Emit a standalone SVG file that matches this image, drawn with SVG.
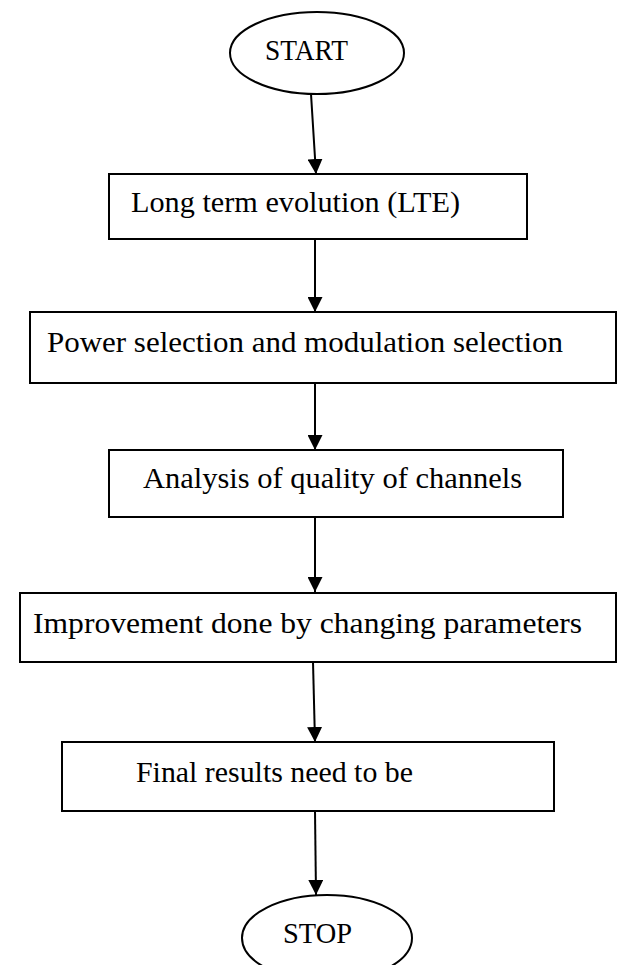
<svg xmlns="http://www.w3.org/2000/svg" width="630" height="965" viewBox="0 0 630 965">
<style>
.shape{fill:#fff;stroke:#000;stroke-width:2}
.lbl{font-family:"Liberation Serif","Times New Roman",serif;font-size:30px;fill:#000}
.conn{stroke:#000;stroke-width:2;fill:none}
</style>
<defs>
<marker id="arr" markerWidth="15" markerHeight="15" refX="15" refY="7.5" orient="auto" markerUnits="userSpaceOnUse">
<path d="M0,0 L15,7.5 L0,15 Z" fill="#000"/>
</marker>
</defs>
<rect width="630" height="965" fill="#fff"/>
<g id="connectors">
<line class="conn" x1="311" y1="94" x2="316" y2="174" marker-end="url(#arr)"/>
<line class="conn" x1="315" y1="239" x2="315" y2="312" marker-end="url(#arr)"/>
<line class="conn" x1="315" y1="383" x2="315" y2="450" marker-end="url(#arr)"/>
<line class="conn" x1="315" y1="517" x2="315" y2="592" marker-end="url(#arr)"/>
<line class="conn" x1="313" y1="662" x2="315" y2="742" marker-end="url(#arr)"/>
<line class="conn" x1="315" y1="811" x2="316" y2="895" marker-end="url(#arr)"/>
</g>
<g id="start">
<ellipse class="shape" cx="317" cy="53" rx="87" ry="41"/>
<text class="lbl" x="265" y="60" textLength="83" lengthAdjust="spacingAndGlyphs">START</text>
</g>
<g id="lte">
<rect class="shape" x="109" y="174" width="418" height="65"/>
<text class="lbl" x="131" y="212" textLength="329" lengthAdjust="spacingAndGlyphs">Long term evolution (LTE)</text>
</g>
<g id="power">
<rect class="shape" x="30" y="312" width="586" height="71"/>
<text class="lbl" x="47" y="352" textLength="516" lengthAdjust="spacingAndGlyphs">Power selection and modulation selection</text>
</g>
<g id="analysis">
<rect class="shape" x="109" y="450" width="454" height="67"/>
<text class="lbl" x="143" y="488" textLength="379" lengthAdjust="spacingAndGlyphs">Analysis of quality of channels</text>
</g>
<g id="improvement">
<rect class="shape" x="20" y="593" width="596" height="69"/>
<text class="lbl" x="33" y="633" textLength="549" lengthAdjust="spacingAndGlyphs">Improvement done by changing parameters</text>
</g>
<g id="final">
<rect class="shape" x="62" y="742" width="492" height="69"/>
<text class="lbl" x="136" y="782" textLength="277" lengthAdjust="spacingAndGlyphs">Final results need to be</text>
</g>
<g id="stop">
<ellipse class="shape" cx="327" cy="938" rx="85" ry="43"/>
<text class="lbl" x="283" y="943" textLength="69" lengthAdjust="spacingAndGlyphs">STOP</text>
</g>
</svg>
